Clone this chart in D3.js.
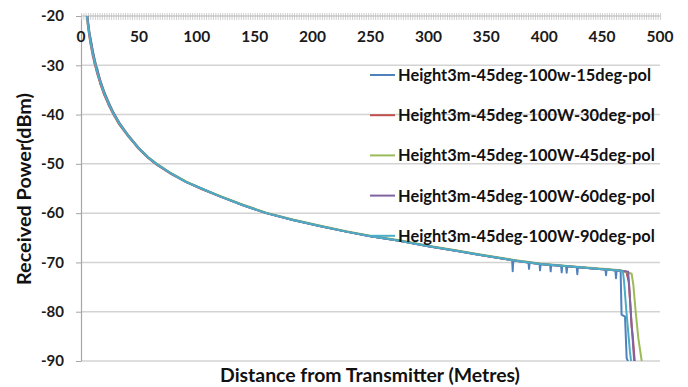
<!DOCTYPE html>
<html>
<head>
<meta charset="utf-8">
<script src="https://cdn.jsdelivr.net/npm/d3@7"></script>
<style>
  body { margin: 0; background: #fff; }
  svg { display: block; font-family: Lato, 'Open Sans', sans-serif; font-weight: bold; }
</style>
</head>
<body>
<div id="app"></div>
<script>
// distance from transmitter (metres), shared by the main part of every series
const distance = [3, 4, 5, 6, 7, 8, 10, 12, 14, 17, 20, 24, 28, 33, 40, 50, 58, 65, 78, 91, 105, 120, 140, 160, 183, 206, 230, 250, 275, 300, 325, 345, 361, 380, 396, 420, 445, 466]

// received power (dBm)
const power15 = [-14.5, -17.5, -19.0, -21.0, -23.4, -24.2, -27.0, -29.8, -30.6, -33.9, -35.4, -38.1, -39.6, -41.9, -44.0, -46.9, -48.7, -50.0, -52.0, -53.7, -55.1, -56.6, -58.4, -60.0, -61.4, -62.6, -63.8, -64.7, -65.6, -66.7, -67.7, -68.5, -69.1, -69.8, -70.3, -70.8, -71.3, -71.7]
const power30 = [-14.3, -17.4, -20.0, -22.1, -23.8, -25.4, -27.9, -29.9, -31.7, -34.0, -36.0, -38.1, -40.0, -42.0, -44.2, -47.0, -48.8, -50.1, -52.1, -53.7, -55.2, -56.6, -58.4, -60.0, -61.4, -62.6, -63.8, -64.7, -65.6, -66.7, -67.7, -68.5, -69.1, -69.8, -70.3, -70.8, -71.3, -71.7]
const power45 = [-13.5, -16.6, -19.2, -21.3, -23.0, -24.6, -27.1, -29.1, -31.0, -33.4, -35.4, -37.6, -39.6, -41.6, -43.9, -46.8, -48.6, -49.9, -51.9, -53.6, -55.1, -56.5, -58.3, -59.9, -61.3, -62.5, -63.7, -64.6, -65.5, -66.6, -67.6, -68.4, -69.0, -69.7, -70.2, -70.7, -71.2, -71.6]
const power60 = [-13.2, -16.4, -19.0, -21.1, -22.8, -24.4, -26.9, -29.0, -31.0, -33.3, -35.4, -37.6, -39.6, -41.6, -44.0, -46.8, -48.7, -50.0, -52.0, -53.7, -55.1, -56.6, -58.4, -60.0, -61.4, -62.6, -63.8, -64.7, -65.6, -66.7, -67.7, -68.5, -69.1, -69.8, -70.3, -70.8, -71.3, -71.7]
const power90 = [-13.9, -17.1, -19.6, -21.7, -23.4, -25.0, -27.5, -29.5, -31.4, -33.7, -35.7, -37.9, -39.8, -41.8, -44.1, -46.9, -48.7, -50.0, -52.0, -53.7, -55.1, -56.6, -58.4, -60.0, -61.4, -62.6, -63.8, -64.7, -65.6, -66.7, -67.7, -68.5, -69.1, -69.8, -70.3, -70.8, -71.3, -71.7]

// short dips of the 15deg series near the far end [distance, power]
const dips15 = [[372.3, -69.5], [372.8, -71.8], [373.3, -69.6], [386.4, -69.9], [386.9, -71.3], [387.4, -70.0],
  [395.9, -70.2], [396.4, -71.6], [396.9, -70.3], [405.1, -70.5], [405.6, -71.8], [406.1, -70.5],
  [414.6, -70.7], [415.1, -72.0], [415.6, -70.7], [418.9, -70.8], [419.4, -72.1], [419.9, -70.8],
  [428.1, -71.0], [428.6, -72.4], [429.1, -71.0], [452.9, -71.4], [453.4, -72.6], [453.9, -71.4],
  [461.5, -71.6], [462.0, -73.2], [462.5, -71.6]]

// signal drop-off at the end of each run [distance, power]
const tail15 = [[466.8, -80.6], [469.8, -81.0], [471.2, -89.4], [474, -91]]
const tail30 = [[471, -71.9], [473, -74], [474.5, -79], [475.5, -83], [476.5, -85], [478.5, -91]]
const tail45 = [[475.5, -72.3], [477, -74.6], [479, -80], [481.3, -85.4], [484.2, -90], [485, -91]]
const tail60 = [[472.5, -71.9], [473.5, -75], [475, -81], [476.5, -86], [478, -91]]
const tail90 = [[468, -71.9], [469, -74], [471, -80], [472.5, -84], [474, -88], [475.5, -91]]

const seriesNames = ['Height3m-45deg-100w-15deg-pol', 'Height3m-45deg-100W-30deg-pol', 'Height3m-45deg-100W-45deg-pol', 'Height3m-45deg-100W-60deg-pol', 'Height3m-45deg-100W-90deg-pol']
const seriesColors = ['#4F81BD', '#C0504D', '#9BBB59', '#8064A2', '#4BACC6']

const xTicks = [0, 50, 100, 150, 200, 250, 300, 350, 400, 450, 500]
const yTicks = [-20, -30, -40, -50, -60, -70, -80, -90]

function main() {
  const W = 688, H = 387
  const left = 81, right = 660, top = 16, bottom = 361

  const svg = d3.select('#app').append('svg').attr('width', W).attr('height', H)

  const x = d3.scaleLinear().domain([0, 500]).range([left, right])
  const y = d3.scaleLinear().domain([-90, -20]).range([bottom, top])

  // horizontal gridlines
  svg.append('g')
    .selectAll('line')
    .data(yTicks.filter((d) => d !== -20))
    .join('line')
    .attr('x1', left).attr('x2', right)
    .attr('y1', (d) => y(d)).attr('y2', (d) => y(d))
    .attr('stroke', '#d3d3d3').attr('stroke-width', 1.5)

  // y axis (plain hyphen for negatives, as in the picture)
  const yAxis = svg.append('g')
    .attr('transform', `translate(${left},0)`)
    .call(d3.axisLeft(y).tickValues(yTicks).tickSize(5).tickPadding(12).tickSizeOuter(0).tickFormat((d) => String(d)))
  yAxis.select('.domain').attr('stroke', '#a6a6a6').attr('stroke-width', 1.2)
  yAxis.selectAll('.tick line').attr('stroke', '#a6a6a6')
  yAxis.selectAll('text').attr('font-size', 15).attr('font-weight', 'bold').attr('fill', '#1a1a1a')
    .attr('font-family', 'Lato, sans-serif')

  // top axis with fine crossing ticks
  const minor = svg.append('g')
    .attr('transform', `translate(0,${top - 3})`)
    .call(d3.axisBottom(x).tickValues(d3.range(0, 501, 2)).tickSize(7).tickFormat('').tickSizeOuter(0))
  minor.select('.domain').remove()
  minor.selectAll('.tick line').attr('stroke', '#c4c4c4').attr('stroke-width', 0.8)
  svg.append('line')
    .attr('x1', left).attr('x2', right).attr('y1', top).attr('y2', top)
    .attr('stroke', '#b5b5b5').attr('stroke-width', 1.2)

  svg.append('g')
    .selectAll('text')
    .data(xTicks)
    .join('text')
    .attr('x', (d) => x(d))
    .attr('y', 37)
    .attr('dy', '0.35em')
    .attr('text-anchor', 'middle')
    .attr('font-size', 15.5)
    .attr('fill', '#1a1a1a')
    .text((d) => d)

  // series
  const powers = [power15, power30, power45, power60, power90]
  const tails = [tail15, tail30, tail45, tail60, tail90]
  const series = powers.map((p, i) => {
    let pts = distance.map((d, j) => [d, p[j]])
    if (i === 0) pts = pts.concat(dips15)
    pts = pts.concat(tails[i])
    pts.sort((a, b) => a[0] - b[0])
    return { name: seriesNames[i], color: seriesColors[i], points: pts }
  })

  svg.append('clipPath').attr('id', 'plot-clip')
    .append('rect').attr('x', left).attr('y', top).attr('width', right - left).attr('height', bottom - top)

  const line = d3.line().x((d) => x(d[0])).y((d) => y(d[1]))

  svg.append('g')
    .attr('clip-path', 'url(#plot-clip)')
    .selectAll('path')
    .data(series)
    .join('path')
    .attr('d', (d) => line(d.points))
    .attr('fill', 'none')
    .attr('stroke', (d) => d.color)
    .attr('stroke-width', 2)
    .attr('stroke-linejoin', 'round')

  // legend
  const legend = svg.append('g')
    .selectAll('g')
    .data(series)
    .join('g')
    .attr('transform', (d, i) => `translate(370,${75 + i * 40.2})`)
  legend.append('line')
    .attr('x1', 0).attr('x2', 25)
    .attr('stroke', (d) => d.color).attr('stroke-width', 2)
  const legendText = legend.append('text')
    .attr('x', 28)
    .attr('dy', '0.36em')
    .attr('font-size', 16)
    .attr('fill', '#111')
    .text((d) => d.name)
  fitText(legendText.filter((d, i) => i === 1), 257, legendText)

  // axis titles
  const yTitle = svg.append('text')
    .attr('transform', 'translate(24,189) rotate(-90)')
    .attr('text-anchor', 'middle')
    .attr('dy', '0.35em')
    .attr('font-size', 16)
    .attr('fill', '#111')
    .text('Received Power(dBm)')
  fitText(yTitle, 192, yTitle)

  const xTitle = svg.append('text')
    .attr('x', 370)
    .attr('y', 375)
    .attr('text-anchor', 'middle')
    .attr('dy', '0.35em')
    .attr('font-size', 16)
    .attr('fill', '#111')
    .text('Distance from Transmitter (Metres)')
  fitText(xTitle, 300, xTitle)
}

// scale font size so the measured text matches the width seen in the picture
function fitText(measure, width, apply) {
  const w = measure.node().getComputedTextLength()
  const size = +measure.attr('font-size') * width / w
  apply.attr('font-size', size.toFixed(2))
}

main();
</script>
</body>
</html>
